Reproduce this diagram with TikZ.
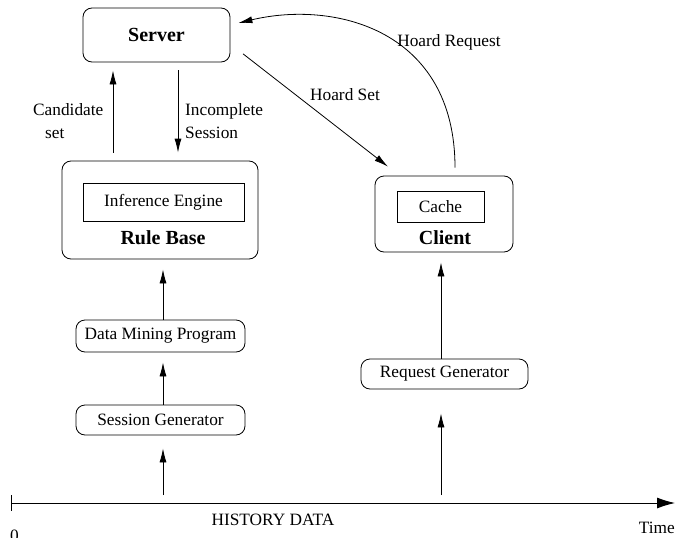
\documentclass[tikz,border=0pt]{standalone}
\usepackage{fontspec}
\setmainfont{Liberation Serif}
\usepackage{tikz}
\usetikzlibrary{positioning,arrows.meta,calc}
\tikzset{
  font=\fontsize{17.3}{23}\selectfont,
  box/.style   = {draw, line width=0.8pt, rounded corners=9pt, align=center,
                  inner sep=0pt},
  part/.style  = {draw, line width=0.8pt, align=center, inner sep=0pt},
  title/.style = {font=\fontsize{20}{23}\selectfont\bfseries, inner sep=0pt},
  tag/.style   = {inner sep=0pt, align=left},
  flow/.style  = {-{Latex[length=14pt,width=7pt]}, line width=0.8pt},
  axis/.style  = {-{Latex[length=18pt,width=11pt]}, line width=0.9pt},
}

\begin{document}
\begin{tikzpicture}[x=1pt,y=-1pt]
\useasboundingbox (0,0) rectangle (675,538);

% ---- server (y = 35) --------------------------------------------------
\node[box, title, minimum width=147pt, minimum height=54pt] at (156.5,35) (srv)
  {Server};

% ---- rule base and client ---------------------------------------------
\node[box, minimum width=196pt, minimum height=98pt] at (160,210) (rb) {};
\node[part, minimum width=161pt, minimum height=38pt] at (163.5,202) (ie)
  {Inference Engine};
\node[title] at (163,238) (rbl) {Rule Base};

\node[box, minimum width=138pt, minimum height=76pt] at (444,214) (cli) {};
\node[part, minimum width=87pt, minimum height=31pt] at (440.5,206.5) (cache)
  {Cache};
\node[title] at (445,238) (clil) {Client};

% ---- generators -------------------------------------------------------
\node[box, minimum width=169pt, minimum height=32pt] at (160.5,336) (dm)
  {Data Mining Program};
\node[box, minimum width=169pt, minimum height=30pt] at (160.5,420) (ses)
  {Session Generator};
\node[box, minimum width=167pt, minimum height=30pt] at (444.5,374) (req)
  {Request Generator};

% ---- time axis --------------------------------------------------------
\coordinate (t0) at (11,503);
\coordinate (tend) at (675,503);
\draw[axis] (t0) -- (tend);
\draw[line width=0.8pt] (11,495) -- (11,511);
\node[tag, anchor=base west] at (10,541) (zero) {0};
\node[tag, anchor=base] at (273,525) (hist) {HISTORY DATA};
\node[tag, anchor=base east] at (675,533) (time) {Time};

% ---- flow edges -------------------------------------------------------
\draw[flow, shorten <=8pt, shorten >=8pt] (rb.north -| 113,0) -- (srv.south -| 113,0);
\draw[flow, shorten <=8pt, shorten >=8pt] (srv.south -| 178,0) -- (rb.north -| 178,0);
\node[tag, anchor=west] at (33,121) (cand) {Candidate\\\hspace*{12pt}set};
\node[tag, anchor=west] at (185,121) (inc) {Incomplete\\Session};

\draw[flow, shorten >=10pt] (dm.north -| rbl) -- (rb.south -| rbl);
\draw[flow, shorten >=10pt] (ses.north -| rbl) -- (dm.south -| rbl);
\draw[flow, shorten <=8pt, shorten >=13pt] (t0 -| rbl) -- (ses.south -| rbl);

\draw[flow, shorten >=10pt] (req.north -| 441,0) -- (cli.south -| 441,0);
\draw[flow, shorten <=8pt, shorten >=24pt] (t0 -| 441,0) -- (req.south -| 441,0);

% ---- hoarding ---------------------------------------------------------
\draw[flow, shorten <=16pt, shorten >=14.6pt]
  ($(srv.east)+(0,9)$) -- ($(cli.north)+(-44.5,0)$);
\node[tag] at (345,95) (hset) {Hoard Set};

\draw[flow] ($(cli.north)+(11,-8)$) .. controls (455,30) and (335,0) ..
  ($(srv.east)+(8,-12)$);
\node[tag] at (449,42) (hreq) {Hoard Request};

\end{tikzpicture}
\end{document}
